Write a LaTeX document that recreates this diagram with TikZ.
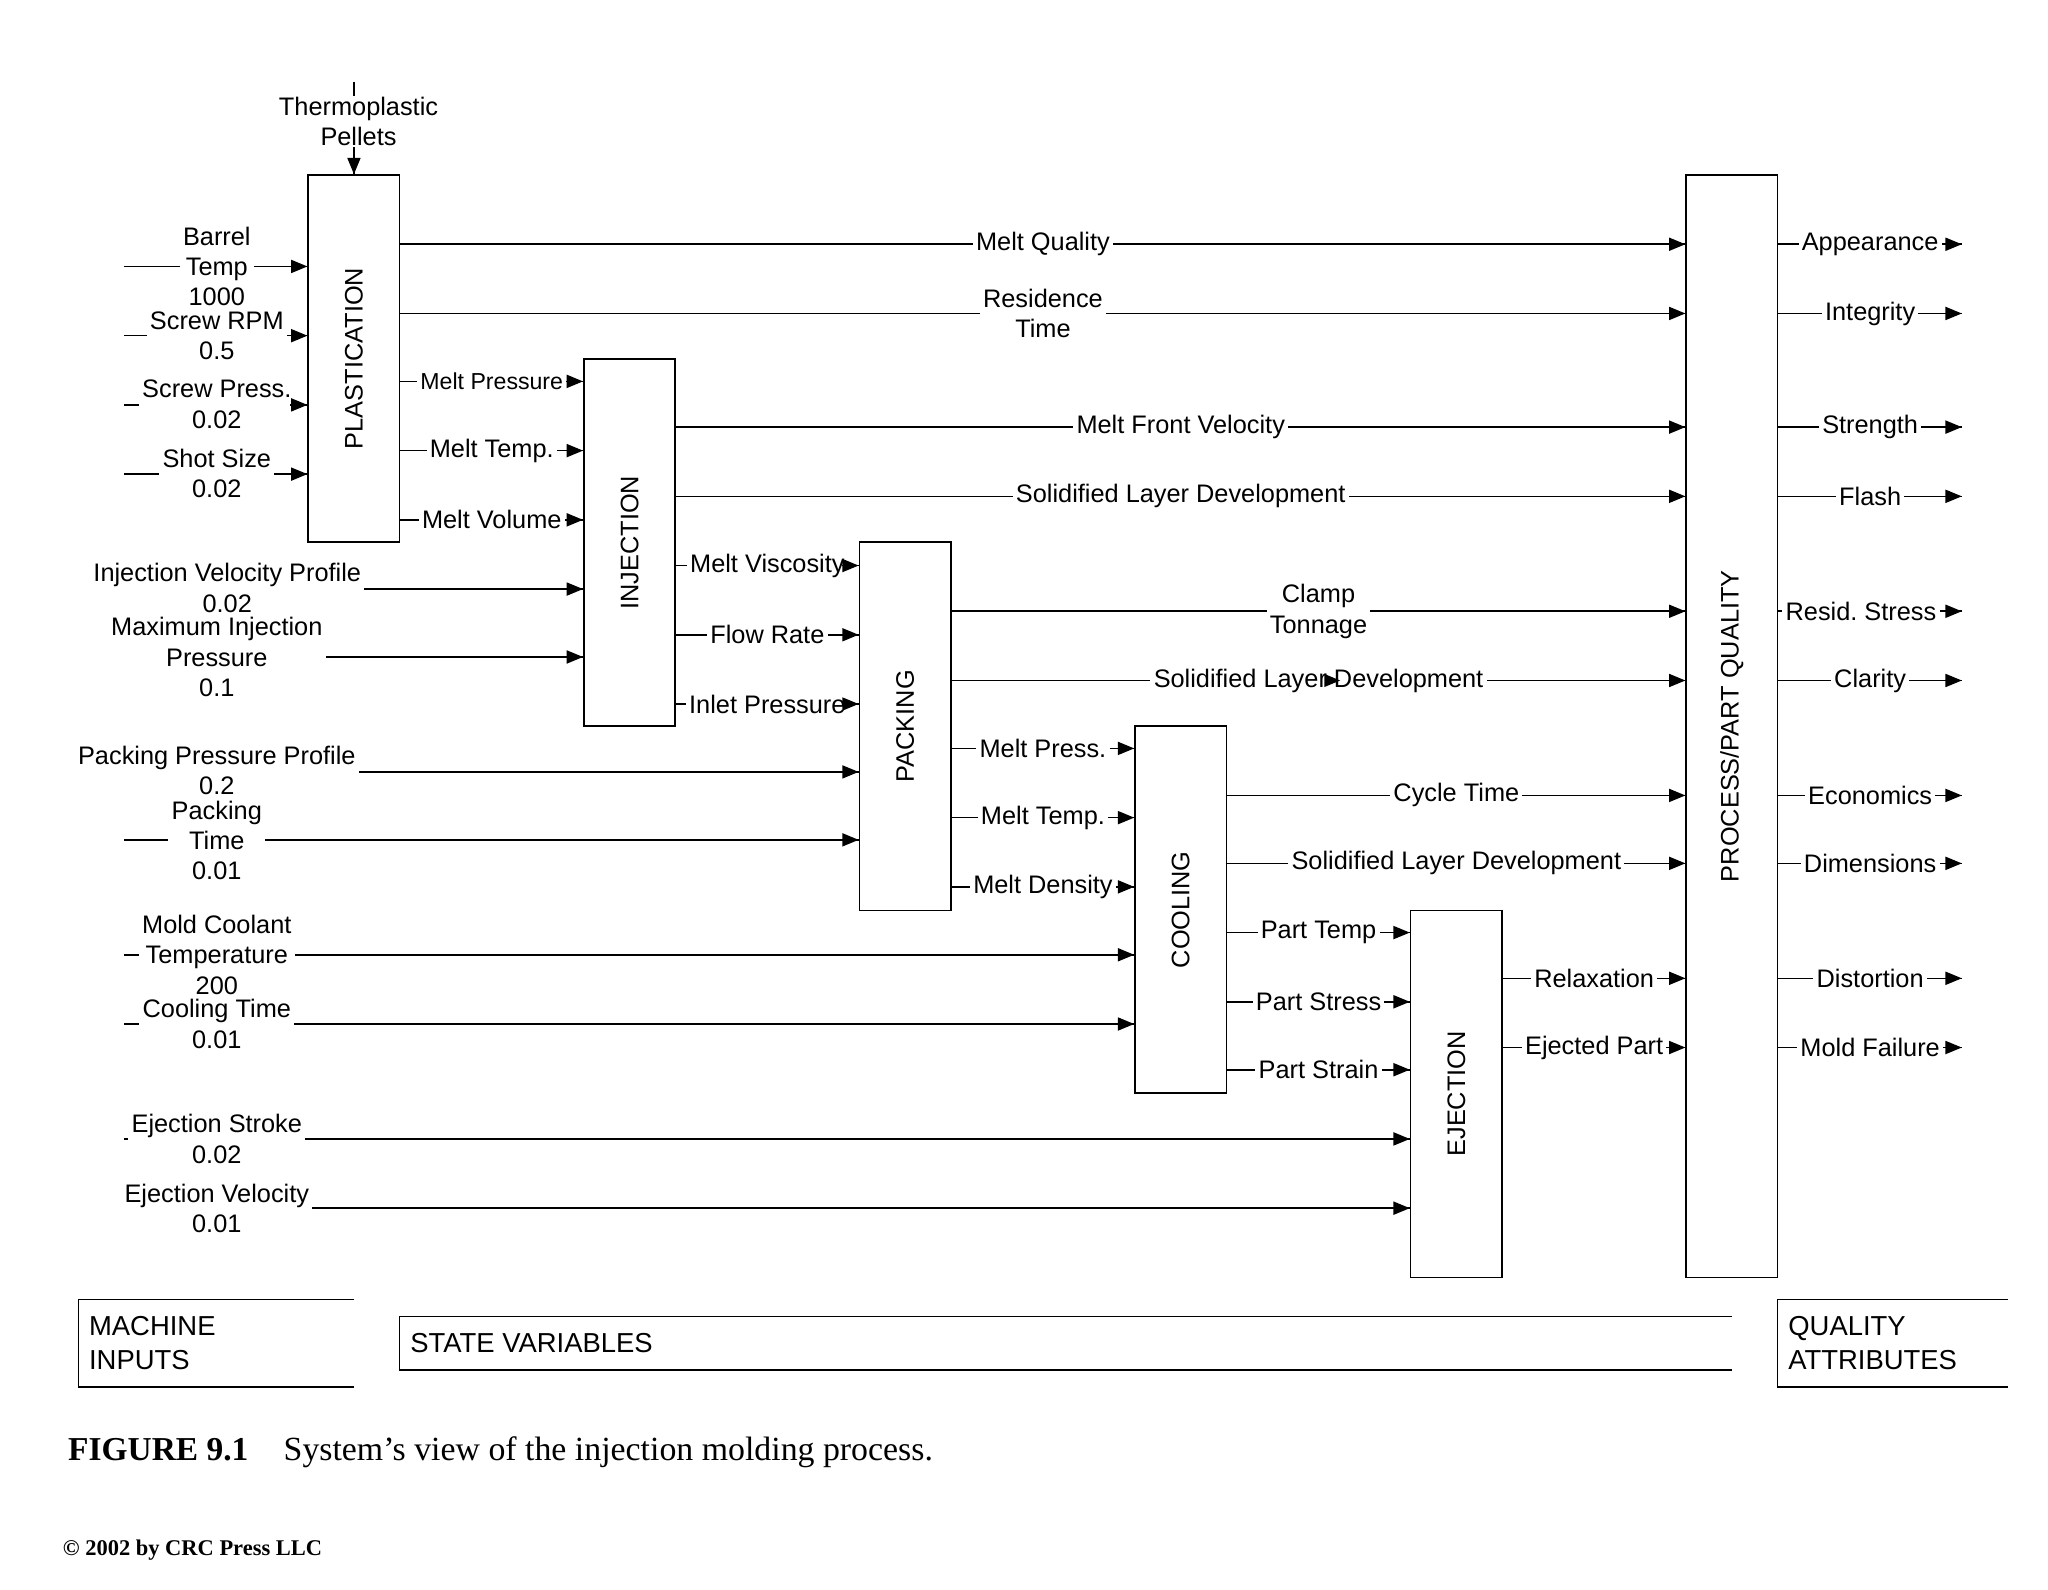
\documentclass[tikz,border=0pt]{standalone}
\usepackage{fontspec}
\setmainfont{Liberation Sans}
\newfontfamily\figserif{Liberation Serif}
\usetikzlibrary{arrows.meta}
% connector between two blocks at height #3, label #4 named #5, extra label options #6
\newcommand\conn[6]{%
  \draw[ln] (#1.east |- 0,#3) -- node[lab,#6] (#5) {#4} (#2.west |- 0,#3);
  \coordinate (#5-tip) at (#2.west |- 0,#3);
  \draw[arr] ([xshift=-13pt]#5-tip) -- (#5-tip);
}
% machine input: start coordinate #1, target block #2, label at (#3,#4), text #5, label name #6
\newcommand\inp[6]{%
  \draw[ln] (#1) -- (#2.west |- #1);
  \node[lab] (#6) at (#3,#4) {#5};
  \coordinate (#1-tip) at (#2.west |- #1);
  \draw[arr] ([xshift=-13pt]#1-tip) -- (#1-tip);
}
% quality output from the quality block to end coordinate #1, text #2, name #3, options #4
\newcommand\outp[4]{%
  \draw[ln] (ppq.east |- #1) -- node[lab,#4] (#3) {#2} (#1);
  \draw[arr] ([xshift=-13pt]#1) -- (#1);
}
\begin{document}
\begin{tikzpicture}[x=1pt,y=-1pt,
  every node/.style={font=\fontsize{19.4}{23.3}\selectfont},
  blk/.style={draw, line width=1.25pt, minimum width=70pt, inner sep=0pt},
  lab/.style={fill=white, inner xsep=2.5pt, inner ysep=0.5pt, align=center},
  arr/.style={line width=1.2pt, -{Triangle[length=12.5pt,width=10pt]}},
  ln/.style={line width=1.2pt},
  legend/.style={font=\fontsize{21}{26}\selectfont, align=left, anchor=west, inner sep=2pt},
  smallab/.style={font=\fontsize{17.7}{21}\selectfont},
]
\fill[white] (0,0) rectangle (1568,1217.3);
\useasboundingbox (0,0) rectangle (1568,1217.3);

% process blocks
\node[blk, minimum height=281pt] (plast) at (271,274.5) {};
\node[blk, minimum height=281pt] (inj)   at (482,415.5) {};
\node[blk, minimum height=282pt] (pack)  at (693,556) {};
\node[blk, minimum height=281pt] (cool)  at (904,696.5) {};
\node[blk, minimum height=281pt] (ejec)  at (1115,837.5) {};
\node[blk, minimum height=844pt] (ppq)   at (1326,556) {};
\node[rotate=90] (plastt) at (plast.center) {PLASTICATION};
\node[rotate=90] (injt)   at (inj.center)   {INJECTION};
\node[rotate=90] (packt)  at (pack.center)  {PACKING};
\node[rotate=90] (coolt)  at (cool.center)  {COOLING};
\node[rotate=90] (eject)  at (ejec.center)  {EJECTION};
\node[rotate=90] (ppqt)   at (ppq.center)   {PROCESS/PART QUALITY};

% thermoplastic pellets
\coordinate (tp) at (271,63);
\draw[ln] (tp) -- (plast.north);
\node[lab, inner ysep=1pt] (tpl) at (274.5,93) {Thermoplastic\\Pellets};
\draw[arr] ([yshift=13pt]plast.north) -- (plast.north);

% machine inputs
\coordinate (i1) at (95,204);
\coordinate (i2) at (95,257);
\coordinate (i3) at (95,310);
\coordinate (i4) at (95,363);
\coordinate (i5) at (95,451);
\coordinate (i6) at (95,503);
\coordinate (i7) at (95,591);
\coordinate (i8) at (95,643);
\coordinate (i9) at (95,731);
\coordinate (i10) at (95,784);
\coordinate (i11) at (95,872);
\coordinate (i12) at (95,925);
\inp{i1}{plast}{166}{204}{Barrel\\Temp\\1000}{l1}
\inp{i2}{plast}{166}{257}{Screw RPM\\0.5}{l2}
\inp{i3}{plast}{166}{309.5}{Screw Press.\\0.02}{l3}
\inp{i4}{plast}{166}{362.5}{Shot Size\\0.02}{l4}
\inp{i5}{inj}{174}{450}{Injection Velocity Profile\\0.02}{l5}
\inp{i6}{inj}{166}{503}{Maximum Injection\\Pressure\\0.1}{l6}
\inp{i7}{pack}{166}{590}{Packing Pressure Profile\\0.2}{l7}
\inp{i8}{pack}{166}{643.5}{Packing\\Time\\0.01}{l8}
\inp{i9}{cool}{166}{731}{Mold Coolant\\Temperature\\200}{l9}
\inp{i10}{cool}{166}{784}{Cooling Time\\0.01}{l10}
\inp{i11}{ejec}{166}{872}{Ejection Stroke\\0.02}{l11}
\inp{i12}{ejec}{166}{925}{Ejection Velocity\\0.01}{l12}

% plastication outputs
\conn{plast}{ppq}{187}{Melt Quality}{s1}{}
\conn{plast}{ppq}{240}{Residence\\Time}{s2}{}
\conn{plast}{inj}{292}{Melt Pressure}{s3}{smallab}
\conn{plast}{inj}{345}{Melt Temp.}{s4}{}
\conn{plast}{inj}{398}{Melt Volume}{s5}{}

% injection outputs
\conn{inj}{ppq}{327}{Melt Front Velocity}{s6}{}
\conn{inj}{ppq}{380}{Solidified Layer Development}{s7}{}
\conn{inj}{pack}{433}{Melt Viscosity}{s8}{}
\conn{inj}{pack}{486}{Flow Rate}{s9}{}
\conn{inj}{pack}{539}{Inlet Pressure}{s10}{}

% packing outputs
\conn{pack}{ppq}{468}{Clamp\\Tonnage}{s11}{}
\conn{pack}{ppq}{521}{Solidified Layer Development}{s12}{}
\fill (1014,516) -- (1026,521) -- (1014,526) -- cycle;
\conn{pack}{cool}{573}{Melt Press.}{s13}{}
\conn{pack}{cool}{626}{Melt Temp.}{s14}{}
\conn{pack}{cool}{679}{Melt Density}{s15}{}

% cooling outputs
\conn{cool}{ppq}{609}{Cycle Time}{s16}{}
\conn{cool}{ppq}{661}{Solidified Layer Development}{s17}{}
\conn{cool}{ejec}{714}{Part Temp}{s18}{}
\conn{cool}{ejec}{767}{Part Stress}{s19}{}
\conn{cool}{ejec}{819}{Part Strain}{s20}{}

% ejection outputs
\conn{ejec}{ppq}{749}{Relaxation}{s21}{}
\conn{ejec}{ppq}{802}{Ejected Part}{s22}{}

% quality attributes
\coordinate (q1) at (1502,187);
\coordinate (q2) at (1502,240);
\coordinate (q3) at (1502,327);
\coordinate (q4) at (1502,380);
\coordinate (q5) at (1502,468);
\coordinate (q6) at (1502,521);
\coordinate (q7) at (1502,609);
\coordinate (q8) at (1502,661);
\coordinate (q9) at (1502,749);
\coordinate (q10) at (1502,802);
\outp{q1}{Appearance}{a1}{}
\outp{q2}{Integrity}{a2}{}
\outp{q3}{Strength}{a3}{}
\outp{q4}{Flash}{a4}{}
\outp{q5}{Resid.\ Stress}{a5}{xshift=-7pt}
\outp{q6}{Clarity}{a6}{}
\outp{q7}{Economics}{a7}{}
\outp{q8}{Dimensions}{a8}{}
\outp{q9}{Distortion}{a9}{}
\outp{q10}{Mold Failure}{a10}{}

% legend
\draw[ln] (271,995) -- (60,995) -- (60,1062) -- (271,1062);
\node[legend] (mi) at (66,1028) {MACHINE\\INPUTS};
\draw[ln] (1326,1008) -- (306,1008) -- (306,1049) -- (1326,1049);
\node[legend] (sv) at (312,1028.5) {STATE VARIABLES};
\draw[ln] (1537,995) -- (1361,995) -- (1361,1062) -- (1537,1062);
\node[legend] (qa) at (1367,1028) {QUALITY\\ATTRIBUTES};

% caption
\node[anchor=base west, inner sep=0pt, font=\figserif\bfseries\fontsize{25.6}{30}\selectfont] (fig) at (52,1118) {FIGURE 9.1};
\node[anchor=base west, inner sep=0pt, font=\figserif\fontsize{25.9}{30}\selectfont] (cap) at (217,1118) {System’s view of the injection molding process.};
\node[anchor=base west, inner sep=0pt, font=\figserif\bfseries\fontsize{17.2}{20}\selectfont] (copy) at (48,1191) {© 2002 by CRC Press LLC};
\end{tikzpicture}
\end{document}
